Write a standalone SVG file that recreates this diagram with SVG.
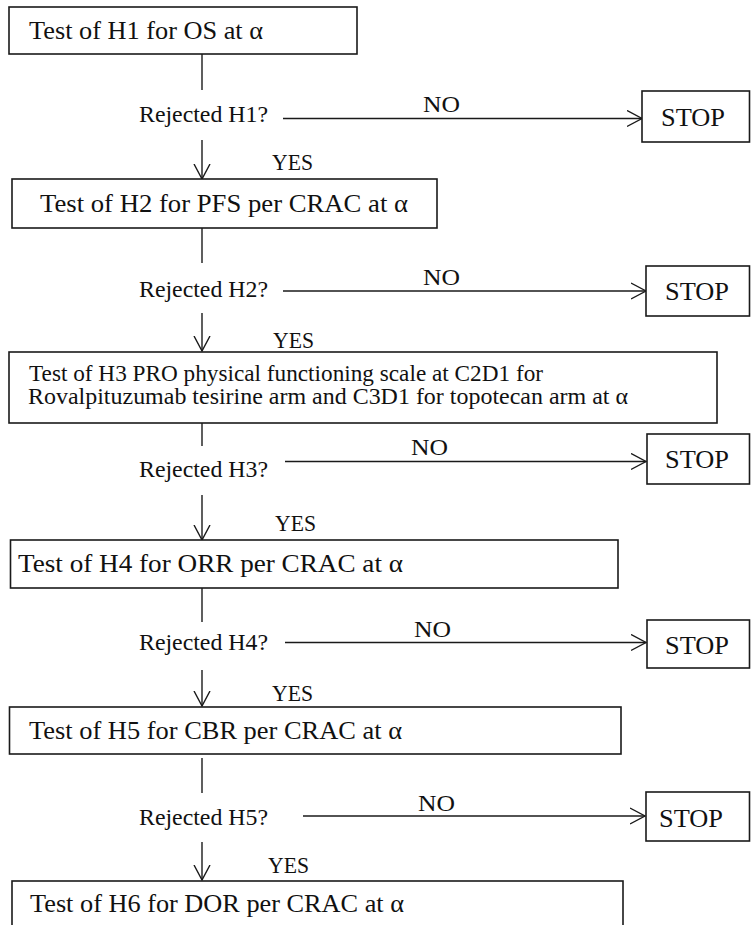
<svg xmlns="http://www.w3.org/2000/svg" width="751" height="925" viewBox="0 0 751 925">
<style>
.box{fill:#fff;stroke:#1a1a1a;stroke-width:1.6}
.t{font-family:"Liberation Serif","Times New Roman",serif;fill:#111}
.b{font-size:25px}
.b3{font-size:22.5px}
.r{font-size:24px}
.lbl{font-size:24px}
.stop{font-size:26px}
.ln{fill:none;stroke:#1a1a1a;stroke-width:1.4}
</style>
<defs>
<marker id="ah" viewBox="0 0 16 18" refX="15" refY="9" markerWidth="16" markerHeight="18" markerUnits="userSpaceOnUse" orient="auto">
<path d="M0,1 L15,9 L0,17" fill="none" stroke="#1a1a1a" stroke-width="1.4"/>
</marker>
</defs>
<rect width="751" height="925" fill="#fff"/>

<g id="connectors">
<line class="ln" x1="202" y1="54" x2="202" y2="90"/>
<line class="ln" x1="202" y1="140" x2="202" y2="179" marker-end="url(#ah)"/>
<line class="ln" x1="283" y1="118.5" x2="642" y2="118.5" marker-end="url(#ah)"/>

<line class="ln" x1="202" y1="228" x2="202" y2="263"/>
<line class="ln" x1="202" y1="313" x2="202" y2="351" marker-end="url(#ah)"/>
<line class="ln" x1="283" y1="291" x2="646" y2="291" marker-end="url(#ah)"/>

<line class="ln" x1="202" y1="423" x2="202" y2="446"/>
<line class="ln" x1="202" y1="495" x2="202" y2="540" marker-end="url(#ah)"/>
<line class="ln" x1="285" y1="461.5" x2="646" y2="461.5" marker-end="url(#ah)"/>

<line class="ln" x1="202" y1="588" x2="202" y2="622"/>
<line class="ln" x1="202" y1="670" x2="202" y2="706" marker-end="url(#ah)"/>
<line class="ln" x1="285" y1="642.5" x2="646" y2="642.5" marker-end="url(#ah)"/>

<line class="ln" x1="202" y1="758" x2="202" y2="793"/>
<line class="ln" x1="202" y1="842" x2="202" y2="880" marker-end="url(#ah)"/>
<line class="ln" x1="303" y1="816" x2="645" y2="816" marker-end="url(#ah)"/>

<text class="t lbl" x="423" y="112" textLength="37" lengthAdjust="spacingAndGlyphs">NO</text>
<text class="t lbl" x="272" y="170" textLength="41" lengthAdjust="spacingAndGlyphs">YES</text>
<text class="t lbl" x="423" y="285" textLength="37" lengthAdjust="spacingAndGlyphs">NO</text>
<text class="t lbl" x="273" y="348" textLength="41" lengthAdjust="spacingAndGlyphs">YES</text>
<text class="t lbl" x="411" y="455" textLength="37" lengthAdjust="spacingAndGlyphs">NO</text>
<text class="t lbl" x="275" y="531" textLength="41" lengthAdjust="spacingAndGlyphs">YES</text>
<text class="t lbl" x="414" y="637" textLength="37" lengthAdjust="spacingAndGlyphs">NO</text>
<text class="t lbl" x="272" y="701" textLength="41" lengthAdjust="spacingAndGlyphs">YES</text>
<text class="t lbl" x="418" y="811" textLength="37" lengthAdjust="spacingAndGlyphs">NO</text>
<text class="t lbl" x="268" y="873" textLength="41" lengthAdjust="spacingAndGlyphs">YES</text>
</g>

<g id="h1">
<rect class="box" x="9" y="7" width="348" height="47"/>
<text class="t b" x="29" y="39" textLength="234" lengthAdjust="spacingAndGlyphs">Test of H1 for OS at α</text>
</g>
<g id="q1"><text class="t r" x="139" y="122" textLength="129" lengthAdjust="spacingAndGlyphs">Rejected H1?</text></g>
<g id="stop1">
<rect class="box" x="642" y="91" width="107.5" height="51"/>
<text class="t stop" x="661" y="126" textLength="64" lengthAdjust="spacingAndGlyphs">STOP</text>
</g>

<g id="h2">
<rect class="box" x="12" y="179" width="425" height="49"/>
<text class="t b" x="40" y="212" textLength="368" lengthAdjust="spacingAndGlyphs">Test of H2 for PFS per CRAC at α</text>
</g>
<g id="q2"><text class="t r" x="139" y="297" textLength="129" lengthAdjust="spacingAndGlyphs">Rejected H2?</text></g>
<g id="stop2">
<rect class="box" x="646" y="266" width="103.5" height="50"/>
<text class="t stop" x="665" y="300" textLength="64" lengthAdjust="spacingAndGlyphs">STOP</text>
</g>

<g id="h3">
<rect class="box" x="9" y="352" width="708" height="71"/>
<text class="t b3" x="29" y="381" textLength="514" lengthAdjust="spacingAndGlyphs">Test of H3 PRO physical functioning scale at C2D1 for</text>
<text class="t b3" x="28" y="404" textLength="600" lengthAdjust="spacingAndGlyphs">Rovalpituzumab tesirine arm and C3D1 for topotecan arm at α</text>
</g>
<g id="q3"><text class="t r" x="139" y="477" textLength="129" lengthAdjust="spacingAndGlyphs">Rejected H3?</text></g>
<g id="stop3">
<rect class="box" x="647" y="434" width="102.5" height="50"/>
<text class="t stop" x="665" y="468" textLength="64" lengthAdjust="spacingAndGlyphs">STOP</text>
</g>

<g id="h4">
<rect class="box" x="10.5" y="540" width="607.5" height="48"/>
<text class="t b" x="18" y="572" textLength="385" lengthAdjust="spacingAndGlyphs">Test of H4 for ORR per CRAC at α</text>
</g>
<g id="q4"><text class="t r" x="139" y="650" textLength="129" lengthAdjust="spacingAndGlyphs">Rejected H4?</text></g>
<g id="stop4">
<rect class="box" x="647" y="620" width="102.5" height="48"/>
<text class="t stop" x="665" y="654" textLength="64" lengthAdjust="spacingAndGlyphs">STOP</text>
</g>

<g id="h5">
<rect class="box" x="9.5" y="707" width="611.5" height="47"/>
<text class="t b" x="29" y="739" textLength="373" lengthAdjust="spacingAndGlyphs">Test of H5 for CBR per CRAC at α</text>
</g>
<g id="q5"><text class="t r" x="139" y="825" textLength="129" lengthAdjust="spacingAndGlyphs">Rejected H5?</text></g>
<g id="stop5">
<rect class="box" x="646" y="792" width="103.5" height="49"/>
<text class="t stop" x="659" y="827" textLength="64" lengthAdjust="spacingAndGlyphs">STOP</text>
</g>

<g id="h6">
<rect class="box" x="12" y="881" width="611" height="60"/>
<text class="t b" x="30" y="912" textLength="374" lengthAdjust="spacingAndGlyphs">Test of H6 for DOR per CRAC at α</text>
</g>
</svg>
